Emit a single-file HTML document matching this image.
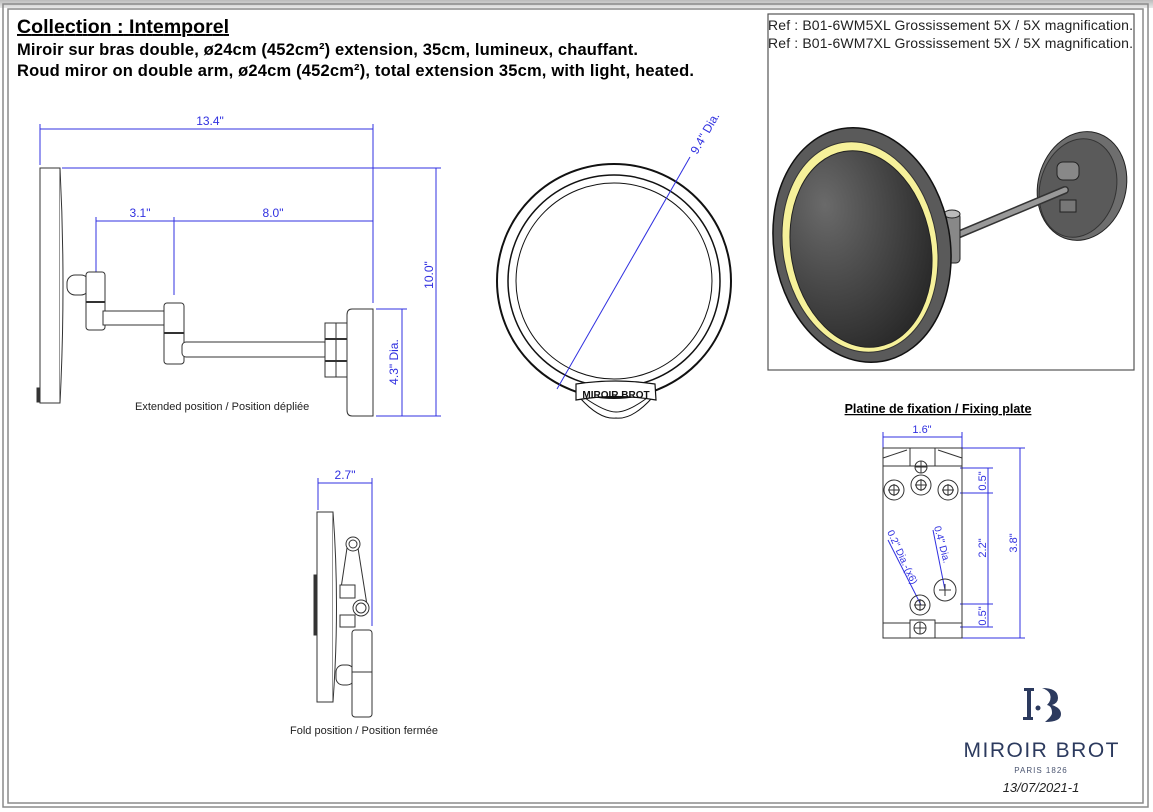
<!DOCTYPE html>
<html><head><meta charset="utf-8"><style>
html,body{margin:0;padding:0;background:#fff}
svg{display:block}
text{font-family:"Liberation Sans",sans-serif}
</style></head><body>
<svg width="1153" height="812" viewBox="0 0 1153 812" xmlns="http://www.w3.org/2000/svg">
<defs>
<linearGradient id="tg" x1="0" y1="0" x2="0" y2="1"><stop offset="0" stop-color="#bbb"/><stop offset="1" stop-color="#e8e8e8"/></linearGradient>
<radialGradient id="mg" cx="0.3" cy="0.25" r="0.95"><stop offset="0" stop-color="#6a6a6a"/><stop offset="1" stop-color="#1e1e1e"/></radialGradient>
</defs>
<rect width="1153" height="812" fill="#fff"/>
<rect x="0" y="0" width="1153" height="8" fill="url(#tg)"/>
<g fill="none" stroke="#8a8a8a" stroke-width="1.5">
<rect x="3" y="4" width="1145" height="803"/>
<rect x="8" y="9" width="1135" height="794"/>
</g>
<!-- header -->
<text x="17" y="33" font-size="19.5" font-weight="bold" text-decoration="underline" textLength="212">Collection : Intemporel</text>
<text x="17" y="55" font-size="16.5" font-weight="bold" textLength="621">Miroir sur bras double, ø24cm (452cm²) extension, 35cm, lumineux, chauffant.</text>
<text x="17" y="76" font-size="16.5" font-weight="bold" textLength="677">Roud miror on double arm, ø24cm (452cm²), total extension 35cm, with light, heated.</text>
<!-- right box -->
<rect x="768" y="14" width="366" height="356" fill="none" stroke="#555" stroke-width="1.2"/>
<text x="768" y="30" font-size="14" fill="#222" textLength="365">Ref : B01-6WM5XL Grossissement 5X / 5X magnification.</text>
<text x="768" y="48" font-size="14" fill="#222" textLength="365">Ref : B01-6WM7XL Grossissement 5X / 5X magnification.</text>
<!-- 3D render -->
<g>
<ellipse cx="1082" cy="186" rx="44" ry="55" transform="rotate(15 1082 186)" fill="#6e6e6e" stroke="#222"/>
<ellipse cx="1078" cy="188" rx="38" ry="50" transform="rotate(15 1078 188)" fill="#5a5a5a" stroke="#333"/>
<rect x="1057" y="162" width="22" height="18" rx="6" fill="#888" stroke="#222"/>
<rect x="1060" y="200" width="16" height="12" fill="#777" stroke="#222"/>
<line x1="955" y1="236" x2="1065" y2="190" stroke="#333" stroke-width="8" stroke-linecap="round"/>
<line x1="955" y1="236" x2="1065" y2="190" stroke="#999" stroke-width="5" stroke-linecap="round"/>
<rect x="944" y="213" width="16" height="50" rx="4" fill="#888" stroke="#222"/>
<ellipse cx="952" cy="214" rx="8" ry="4" fill="#bbb" stroke="#222"/>
<ellipse cx="862" cy="245" rx="88" ry="118" transform="rotate(-10 862 245)" fill="#5a5a5a" stroke="#111" stroke-width="1.5"/>
<ellipse cx="860" cy="247" rx="77" ry="106" transform="rotate(-10 860 247)" fill="#f6f19a" stroke="#333"/>
<ellipse cx="861" cy="249" rx="70" ry="99" transform="rotate(-10 861 249)" fill="url(#mg)" stroke="#222"/>
</g>
<!-- Extended view -->
<g fill="none" stroke="#3030e0" stroke-width="1">
<line x1="40" y1="129" x2="373" y2="129"/>
<line x1="40" y1="124" x2="40" y2="165"/>
<line x1="373" y1="124" x2="373" y2="303"/>
<line x1="62" y1="168" x2="441" y2="168"/>
<line x1="436" y1="168" x2="436" y2="416"/>
<line x1="96" y1="221" x2="373" y2="221"/>
<line x1="96" y1="217" x2="96" y2="300"/>
<line x1="174" y1="217" x2="174" y2="295"/>
<line x1="376" y1="309" x2="407" y2="309"/>
<line x1="376" y1="416" x2="441" y2="416"/>
<line x1="402" y1="309" x2="402" y2="416"/>
</g>
<g fill="#3030e0" font-size="12">
<text x="210" y="125" text-anchor="middle">13.4"</text>
<text x="140" y="217" text-anchor="middle">3.1"</text>
<text x="273" y="217" text-anchor="middle">8.0"</text>
<text transform="translate(433 275) rotate(-90)" text-anchor="middle">10.0"</text>
<text transform="translate(398 362) rotate(-90)" text-anchor="middle">4.3" Dia.</text>
</g>
<g fill="#fff" stroke="#333" stroke-width="1">
<rect x="40" y="168" width="20" height="235"/>
<path d="M60 168 Q66 285 60 403"/>
<rect x="37" y="388" width="3" height="14" fill="#333"/>
<rect x="67" y="275" width="22" height="20" rx="8"/>
<rect x="86" y="272" width="19" height="58" rx="3"/>
<line x1="86" y1="302" x2="105" y2="302" stroke-width="2"/>
<rect x="103" y="311" width="64" height="14"/>
<rect x="164" y="303" width="20" height="61" rx="3"/>
<line x1="164" y1="333" x2="184" y2="333" stroke-width="2"/>
<rect x="182" y="342" width="146" height="15" rx="4"/>
<rect x="325" y="323" width="22" height="54"/>
<line x1="325" y1="339" x2="347" y2="339" stroke-width="2"/>
<line x1="325" y1="361" x2="347" y2="361" stroke-width="2"/>
<line x1="336" y1="323" x2="336" y2="377"/>
<path d="M352 309 H373 V416 H352 Q347 416 347 410 V315 Q347 309 352 309Z"/>
</g>
<text x="135" y="410" font-size="11" fill="#222">Extended position / Position dépliée</text>
<!-- Round front view -->
<g fill="none" stroke="#111">
<path d="M580 398 Q600 420 616 418 Q632 420 652 398" stroke-width="1"/>
<path d="M585 398 Q605 412 616 412 Q628 412 647 398" stroke-width="1"/>
<circle cx="614" cy="281" r="117" stroke-width="2" fill="#fff"/>
<circle cx="614" cy="281" r="106" stroke-width="1.5"/>
<circle cx="614" cy="281" r="98" stroke-width="1"/>
<path d="M576 384 Q616 378 655 384 L656 400 Q616 393 576 400Z" fill="#fff" stroke-width="1.2"/>
</g>
<text x="616" y="398" font-size="10" font-family="Liberation Serif" font-weight="bold" text-anchor="middle" fill="#111">MIROIR  BROT</text>
<line x1="557" y1="389" x2="690" y2="157" stroke="#3030e0"/>
<text transform="translate(697 155) rotate(-60)" font-size="12" fill="#3030e0">9.4" Dia.</text>
<!-- Fold view -->
<g fill="none" stroke="#3030e0">
<line x1="318" y1="483" x2="372" y2="483"/>
<line x1="318" y1="478" x2="318" y2="510"/>
<line x1="372" y1="478" x2="372" y2="626"/>
</g>
<text x="345" y="479" font-size="12" text-anchor="middle" fill="#3030e0">2.7"</text>
<g fill="#fff" stroke="#333">
<rect x="317" y="512" width="16" height="190"/>
<path d="M333 512 Q340 605 333 702"/>
<rect x="314" y="575" width="3" height="60" fill="#333"/>
<line x1="347" y1="548" x2="340" y2="595"/>
<line x1="358" y1="548" x2="367" y2="605"/>
<rect x="340" y="585" width="15" height="13"/>
<rect x="340" y="615" width="15" height="12"/>
<circle cx="353" cy="544" r="7"/><circle cx="353" cy="544" r="4"/>
<circle cx="361" cy="608" r="8"/><circle cx="361" cy="608" r="5"/>
<rect x="336" y="665" width="18" height="20" rx="7"/>
<rect x="352" y="630" width="20" height="87" rx="3"/>
<line x1="352" y1="672" x2="372" y2="672"/>
</g>
<text x="290" y="734" font-size="11" fill="#222">Fold position / Position fermée</text>
<!-- Fixing plate -->
<text x="938" y="413" font-size="12.5" font-weight="bold" text-anchor="middle" text-decoration="underline">Platine de fixation / Fixing plate</text>
<g fill="none" stroke="#3030e0">
<line x1="883" y1="437" x2="962" y2="437"/>
<line x1="883" y1="432" x2="883" y2="450"/>
<line x1="962" y1="432" x2="962" y2="450"/>
<line x1="962" y1="448" x2="1025" y2="448"/>
<line x1="962" y1="638" x2="1025" y2="638"/>
<line x1="1020" y1="448" x2="1020" y2="638"/>
<line x1="960" y1="468" x2="993" y2="468"/>
<line x1="960" y1="493" x2="993" y2="493"/>
<line x1="960" y1="604" x2="993" y2="604"/>
<line x1="960" y1="627" x2="993" y2="627"/>
<line x1="988" y1="468" x2="988" y2="627"/>
<line x1="888" y1="540" x2="921" y2="605"/>
<line x1="933" y1="530" x2="945" y2="590"/>
</g>
<g fill="#3030e0" font-size="11">
<text x="922" y="433" text-anchor="middle">1.6"</text>
<text transform="translate(986 481) rotate(-90)" text-anchor="middle">0.5"</text>
<text transform="translate(986 548) rotate(-90)" text-anchor="middle">2.2"</text>
<text transform="translate(986 616) rotate(-90)" text-anchor="middle">0.5"</text>
<text transform="translate(1017 543) rotate(-90)" text-anchor="middle">3.8"</text>
<text transform="translate(887 532) rotate(65)" font-size="10">0.2" Dia.-(x6)</text>
<text transform="translate(934 527) rotate(75)" font-size="10">0.4" Dia.</text>
</g>
<g fill="none" stroke="#333">
<rect x="883" y="448" width="79" height="190"/>
<rect x="910" y="448" width="25" height="18"/>
<path d="M883 458 L907 450 M883 466 L910 466 M935 466 L962 466 M938 450 L962 458"/>
<rect x="910" y="620" width="25" height="18"/>
<path d="M883 623 L910 623 M935 623 L962 623"/>
<circle cx="921" cy="467" r="6"/><circle cx="894" cy="490" r="10"/><circle cx="894" cy="490" r="5"/>
<circle cx="921" cy="485" r="10"/><circle cx="921" cy="485" r="5"/>
<circle cx="948" cy="490" r="10"/><circle cx="948" cy="490" r="5"/>
<circle cx="920" cy="605" r="10"/><circle cx="920" cy="605" r="5"/>
<circle cx="945" cy="590" r="11"/>
<circle cx="920" cy="628" r="6"/>
<path d="M915 467h12M921 461v12M888 490h12M894 484v12M915 485h12M921 479v12M942 490h12M948 484v12M914 605h12M920 599v12M939 590h12M945 584v12M914 628h12M920 622v12"/>
</g>
<!-- Logo -->
<g fill="#2c3a5e">
<rect x="1024" y="688" width="10" height="3"/>
<rect x="1027" y="688" width="4" height="32"/>
<rect x="1023" y="717" width="10" height="3"/>
<circle cx="1038" cy="708" r="2.5"/>
<path d="M1042 688 Q1058 688 1058 698 Q1058 703 1052 705 Q1061 708 1061 714 Q1061 722 1045 722 Q1052 716 1052 713 Q1052 706 1047 705 Q1052 700 1050 694 Q1048 690 1042 688Z"/>
</g>
<text x="1041" y="757" font-size="21" text-anchor="middle" fill="#2c3a5e" textLength="155">MIROIR BROT</text>
<text x="1041" y="773" font-size="8" text-anchor="middle" fill="#4a5470" letter-spacing="1">PARIS 1826</text>
<text x="1041" y="792" font-size="13" font-style="italic" text-anchor="middle" fill="#222">13/07/2021-1</text>
</svg>
</body></html>
